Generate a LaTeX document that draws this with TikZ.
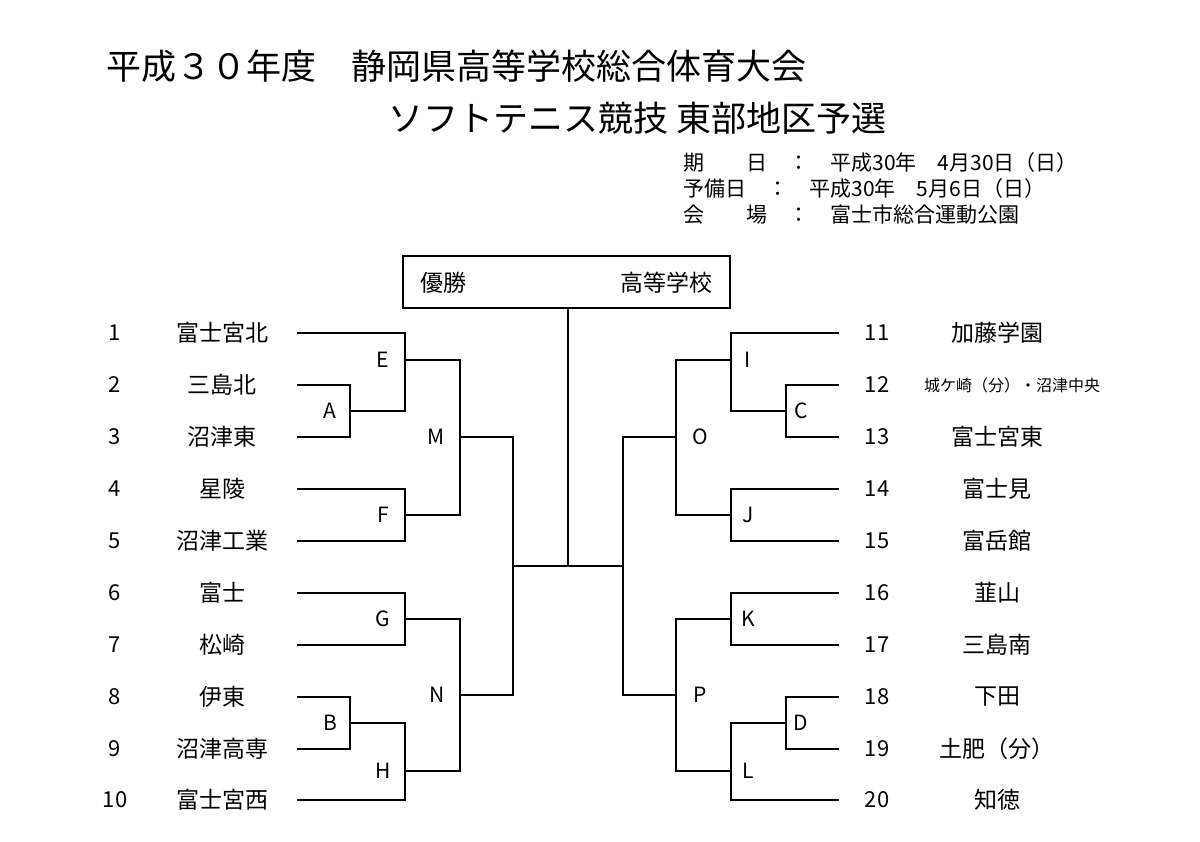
\documentclass[tikz,border=0pt]{standalone}
\usepackage{fontspec}
\setmainfont{Noto Sans CJK JP}
\tikzset{
  team/.style={font=\fontsize{23}{25}\selectfont, inner sep=0pt},
  num/.style={font=\fontsize{22}{24}\selectfont, inner sep=0pt},
  rnd/.style={font=\fontsize{21}{23}\selectfont, inner sep=0pt},
  br/.style={line width=1.2pt}
}
\begin{document}
\begin{tikzpicture}[x=1pt,y=-1pt]
  \useasboundingbox[fill=white] (0,0) rectangle (1200,842);

  % title
  \node[anchor=west, font=\fontsize{35}{38}\selectfont] (t1) at (103,66) {平成３０年度　静岡県高等学校総合体育大会};
  \node[anchor=west, font=\fontsize{35}{38}\selectfont] (t2) at (385,118) {ソフトテニス競技 東部地区予選};
  \node[anchor=west, font=\fontsize{21}{24}\selectfont] (d1) at (680,163) {期　　日　：　平成30年　4月30日（日）};
  \node[anchor=west, font=\fontsize{21}{24}\selectfont] (d2) at (680,189) {予備日　：　平成30年　5月6日（日）};
  \node[anchor=west, font=\fontsize{21}{24}\selectfont] (d3) at (680,215) {会　　場　：　富士市総合運動公園};

  % champion box
  \draw[br] (403,256) rectangle (730,308);
  \node[team] (win) at (443,283) {優勝};
  \node[team] (hs) at (666,283) {高等学校};

  % left teams
  \node[num] (n1) at (115,333) {1};   \node[team] (s1) at (222,333) {富士宮北};
  \node[num] (n2) at (115,385) {2};   \node[team] (s2) at (222,385) {三島北};
  \node[num] (n3) at (115,437) {3};   \node[team] (s3) at (222,437) {沼津東};
  \node[num] (n4) at (115,489) {4};   \node[team] (s4) at (222,489) {星陵};
  \node[num] (n5) at (115,541) {5};   \node[team] (s5) at (222,541) {沼津工業};
  \node[num] (n6) at (115,593) {6};   \node[team] (s6) at (222,593) {富士};
  \node[num] (n7) at (115,645) {7};   \node[team] (s7) at (222,645) {松崎};
  \node[num] (n8) at (115,697) {8};   \node[team] (s8) at (222,697) {伊東};
  \node[num] (n9) at (115,749) {9};   \node[team] (s9) at (222,749) {沼津高専};
  \node[num] (n10) at (115,800) {10}; \node[team] (s10) at (222,800) {富士宮西};

  % right teams
  \node[num] (n11) at (877,333) {11}; \node[team] (s11) at (997,333) {加藤学園};
  \node[num] (n12) at (877,385) {12}; \node[team, font=\fontsize{16}{18}\selectfont] (s12) at (1012,385) {城ケ崎（分）・沼津中央};
  \node[num] (n13) at (877,437) {13}; \node[team] (s13) at (997,437) {富士宮東};
  \node[num] (n14) at (877,489) {14}; \node[team] (s14) at (997,489) {富士見};
  \node[num] (n15) at (877,541) {15}; \node[team] (s15) at (997,541) {富岳館};
  \node[num] (n16) at (877,593) {16}; \node[team] (s16) at (997,593) {韮山};
  \node[num] (n17) at (877,645) {17}; \node[team] (s17) at (997,645) {三島南};
  \node[num] (n18) at (877,697) {18}; \node[team] (s18) at (997,697) {下田};
  \node[num] (n19) at (877,749) {19}; \node[team] (s19) at (997,749) {土肥（分）};
  \node[num] (n20) at (877,800) {20}; \node[team] (s20) at (997,800) {知徳};

  % left bracket
  \draw[br] (297,385) -| (350,437) -- (297,437);
  \draw[br] (297,333) -| (405,411) -- (350,411);
  \draw[br] (297,489) -| (405,541) -- (297,541);
  \draw[br] (405,360) -| (460,515) -- (405,515);
  \draw[br] (297,593) -| (405,645) -- (297,645);
  \draw[br] (297,697) -| (350,749) -- (297,749);
  \draw[br] (350,723) -| (405,800) -- (297,800);
  \draw[br] (405,619) -| (460,771) -- (405,771);
  \draw[br] (460,437) -| (513,695) -- (460,695);

  % right bracket
  \draw[br] (839,385) -| (786,437) -- (839,437);
  \draw[br] (839,333) -| (731,411) -- (786,411);
  \draw[br] (839,489) -| (731,541) -- (839,541);
  \draw[br] (731,360) -| (676,515) -- (731,515);
  \draw[br] (839,593) -| (731,645) -- (839,645);
  \draw[br] (839,697) -| (786,749) -- (839,749);
  \draw[br] (786,723) -| (731,800) -- (839,800);
  \draw[br] (731,619) -| (676,771) -- (731,771);
  \draw[br] (676,437) -| (623,695) -- (676,695);

  % final
  \draw[br] (513,566) -- (623,566);
  \draw[br] (568,308) -- (568,566);

  % round labels
  \node[rnd] (ra) at (330,411) {A};
  \node[rnd] (rb) at (330,723) {B};
  \node[rnd] (re) at (383,360) {E};
  \node[rnd] (rf) at (383,515) {F};
  \node[rnd] (rg) at (383,619) {G};
  \node[rnd] (rh) at (383,771) {H};
  \node[rnd] (rm) at (436,437) {M};
  \node[rnd] (rn) at (437,695) {N};
  \node[rnd] (rc) at (801,411) {C};
  \node[rnd] (rd) at (801,723) {D};
  \node[rnd] (ri) at (748,360) {I};
  \node[rnd] (rj) at (748,515) {J};
  \node[rnd] (rk) at (748,619) {K};
  \node[rnd] (rl) at (748,771) {L};
  \node[rnd] (ro) at (700,437) {O};
  \node[rnd] (rp) at (700,695) {P};
\end{tikzpicture}
\end{document}
